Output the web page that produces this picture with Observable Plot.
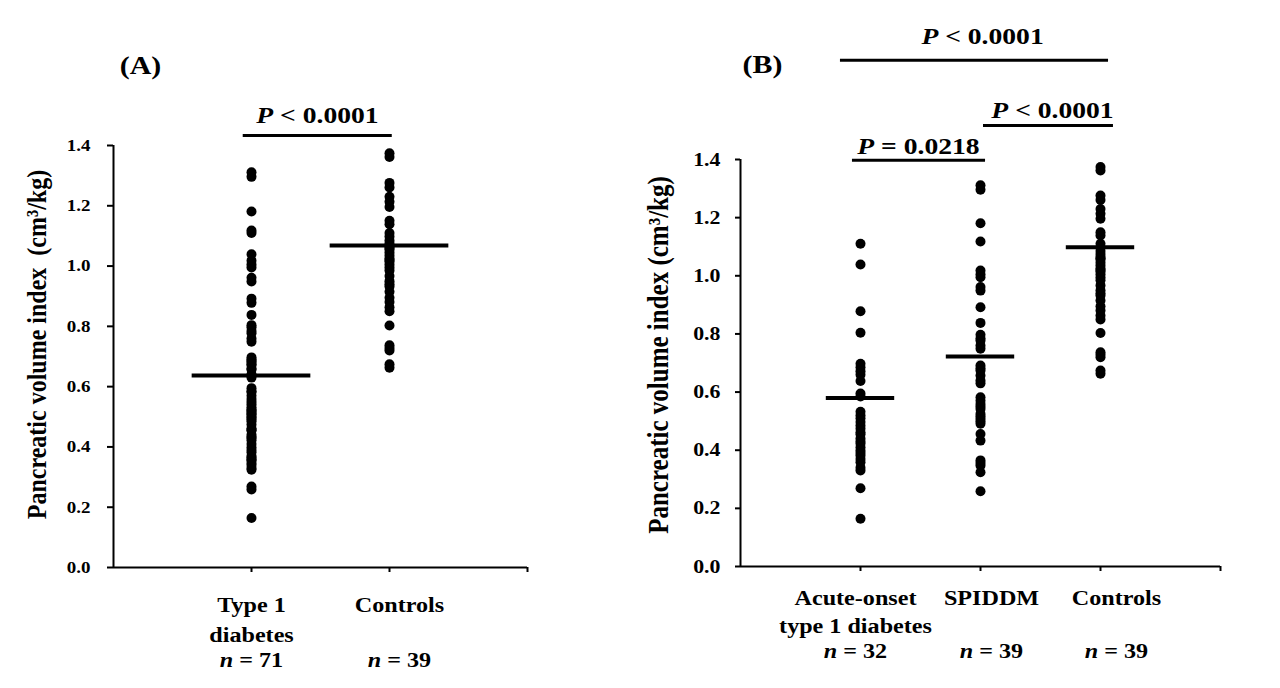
<!DOCTYPE html>
<html>
<head>
<meta charset="utf-8">
<script src="https://cdn.jsdelivr.net/npm/d3@7"></script>
<script src="https://cdn.jsdelivr.net/npm/@observablehq/plot@0.6"></script>
<style>
  html, body { margin: 0; padding: 0; background: #fff; }
  #wrap { position: relative; width: 1280px; height: 688px; display: flex; }
  #wrap svg { display: block; }
</style>
</head>
<body>
<div id="wrap"></div>
<script>
// ---------------- data ----------------
const categoriesA = ["Type 1\ndiabetes", "Controls"];
const sampleSizesA = ["n = 71", "n = 39"];
const categoriesB = ["Acute-onset\ntype 1 diabetes", "SPIDDM", "Controls"];
const sampleSizesB = ["n = 32", "n = 39", "n = 39"];

const acuteOnset = [1.110, 1.039, 0.878, 0.804, 0.697, 0.685, 0.672, 0.660, 0.638, 0.595, 0.585,
  0.532, 0.520, 0.510, 0.497, 0.485, 0.474, 0.462, 0.455, 0.440, 0.430, 0.422, 0.410, 0.399,
  0.390, 0.382, 0.370, 0.359, 0.340, 0.330, 0.269, 0.164];
const spiddm = [1.311, 1.296, 1.181, 1.118, 1.018, 1.005, 0.995, 0.961, 0.949, 0.892, 0.838,
  0.797, 0.785, 0.777, 0.760, 0.749, 0.691, 0.682, 0.674, 0.657, 0.640, 0.630, 0.582, 0.570,
  0.559, 0.550, 0.542, 0.525, 0.517, 0.508, 0.500, 0.491, 0.456, 0.433, 0.365, 0.356, 0.347,
  0.324, 0.259];
const controls = [1.374, 1.362, 1.276, 1.261, 1.230, 1.213, 1.196, 1.150, 1.139, 1.110, 1.098,
  1.085, 1.075, 1.065, 1.060, 1.055, 1.045, 1.035, 1.025, 1.020, 1.015, 1.005, 0.995, 0.985,
  0.967, 0.950, 0.940, 0.932, 0.915, 0.895, 0.881, 0.863, 0.850, 0.803, 0.737, 0.728, 0.720,
  0.674, 0.663];
const type1 = acuteOnset.concat(spiddm);

const meansA = [0.637, 1.068];
const meansB = [0.580, 0.722, 1.098];

const yTicks = [0, 0.2, 0.4, 0.6, 0.8, 1.0, 1.2, 1.4];
const yLabelA = "Pancreatic volume index\u00a0 (cm\u00b3/kg)";
const yLabelB = "Pancreatic volume index (cm\u00b3/kg)";

// significance brackets (data units)
const bracketsA = [{x1: 0.94, x2: 2.02, y: 1.433, labelX: 1.478, labelY: 1.501, label: "P < 0.0001"}];
const bracketsB = [
  {x1: 0.833, x2: 3.067, y: 1.741, labelX: 2.017, labelY: 1.825, label: "P < 0.0001"},
  {x1: 2.025, x2: 3.108, y: 1.517, labelX: 2.600, labelY: 1.570, label: "P < 0.0001"},
  {x1: 0.933, x2: 2.042, y: 1.397, labelX: 1.483, labelY: 1.446, label: "P = 0.0218"}
];

// ---------------- drawing ----------------
const FONT = "'Liberation Serif', 'Times New Roman', Times, serif";

function panel(cfg) {
  const rows = cfg.groups.flatMap((g, i) => g.map(v => ({x: i + 1, v})));
  const meanRows = cfg.means.map((m, i) => ({x: i + 1, m}));
  const marks = [
    Plot.ruleX([0], {y1: 0, y2: 1.4, strokeWidth: 2}),
    Plot.ruleY([0], {x1: 0, x2: cfg.xMax, strokeWidth: 2}),
    Plot.axisY(yTicks, {tickSize: cfg.tickSize, tickPadding: cfg.tickPadding, strokeWidth: 2,
      tickFormat: d => d.toFixed(1), fontSize: cfg.tickFont}),
    Plot.axisX(d3.range(1, cfg.xMax + 1), {tickSize: 5, strokeWidth: 2, tickFormat: () => ""}),
    Plot.dot(rows, {x: "x", y: "v", r: 5, fill: "black", stroke: null}),
    Plot.ruleY(meanRows, {y: "m", x1: d => d.x - cfg.meanHW, x2: d => d.x + cfg.meanHW, strokeWidth: 4}),
    Plot.ruleY(cfg.brackets, {y: "y", x1: "x1", x2: "x2", strokeWidth: 3}),
    Plot.text(cfg.brackets, {x: "labelX", y: "labelY", text: "label", fontSize: 24}),
    Plot.text([cfg.ylabel], {frameAnchor: "left", dx: cfg.ylabelDx, dy: cfg.ylabelDy, rotate: -90,
      textAnchor: "middle", fontSize: cfg.ylabelSize}),
    Plot.text([cfg.letter], {frameAnchor: "top-left", dx: cfg.letterDx, dy: cfg.letterDy,
      textAnchor: "middle", fontSize: 26})
  ];
  cfg.cats.forEach((c, i) => {
    marks.push(Plot.text([c], {x: i + 1, y: 0, dx: cfg.shift[i], dy: cfg.catDy, lineAnchor: "top",
      lineHeight: cfg.lineHeight, fontSize: 21}));
    marks.push(Plot.text([cfg.ns[i]], {x: i + 1, y: 0, dx: cfg.shift[i], dy: cfg.nDy, lineAnchor: "top",
      fontSize: 21}));
  });
  return Plot.plot({
    width: 640, height: 688,
    marginLeft: cfg.ml, marginRight: cfg.mr, marginTop: cfg.mt, marginBottom: cfg.mb,
    x: {domain: [0, cfg.xMax], label: null},
    y: {domain: [0, 1.4], label: null},
    style: {fontFamily: FONT, fontWeight: "bold", fontSize: "16px", color: "black", background: "white", overflow: "visible"},
    marks
  });
}

const svgA = panel({
  groups: [type1, controls], cats: categoriesA, ns: sampleSizesA, means: meansA, brackets: bracketsA,
  letter: "(A)", xMax: 3, ml: 113, mr: 113, mt: 145, mb: 121,
  tickSize: 6, tickPadding: 17, tickFont: 16.5, meanHW: 0.43,
  ylabel: yLabelA, ylabelSize: 24, ylabelDx: -76, ylabelDy: -12,
  letterDx: 27, letterDy: -90, catDy: 23, nDy: 85, lineHeight: 1.43, shift: [0, 10]
});
const svgB = panel({
  groups: [acuteOnset, spiddm, controls], cats: categoriesB, ns: sampleSizesB, means: meansB, brackets: bracketsB,
  letter: "(B)", xMax: 4, ml: 100, mr: 60, mt: 159, mb: 122,
  tickSize: 5, tickPadding: 15, tickFont: 19, meanHW: 0.285,
  ylabel: yLabelB, ylabelSize: 25, ylabelDx: -82, ylabelDy: -8,
  letterDx: 22, letterDy: -105, catDy: 19, nDy: 77, lineHeight: 1.33, shift: [-5, 11, 16]
});

const wrap = document.getElementById("wrap");
wrap.appendChild(svgA);
wrap.appendChild(svgB);

// italic P / n, and slight horizontal stretch of the lettering as in the original figure
const NS = "http://www.w3.org/2000/svg";
const STRETCH = 1.15;
[svgA, svgB].forEach(svg => {
  svg.querySelectorAll("text").forEach(t => {
    const s = t.textContent;
    if (t.children.length === 0 && /^[Pn] [<=]/.test(s)) {
      t.textContent = "";
      const it = document.createElementNS(NS, "tspan");
      it.setAttribute("font-style", "italic");
      it.textContent = s[0];
      t.appendChild(it);
      t.appendChild(document.createTextNode(s.slice(1)));
    }
    const tr = t.getAttribute("transform") || "";
    const sc = /rotate/.test(tr) ? `scale(1,${STRETCH})` : `scale(${STRETCH},1)`;
    t.setAttribute("transform", `${tr} ${sc}`.trim());
  });
});
</script>
</body>
</html>
